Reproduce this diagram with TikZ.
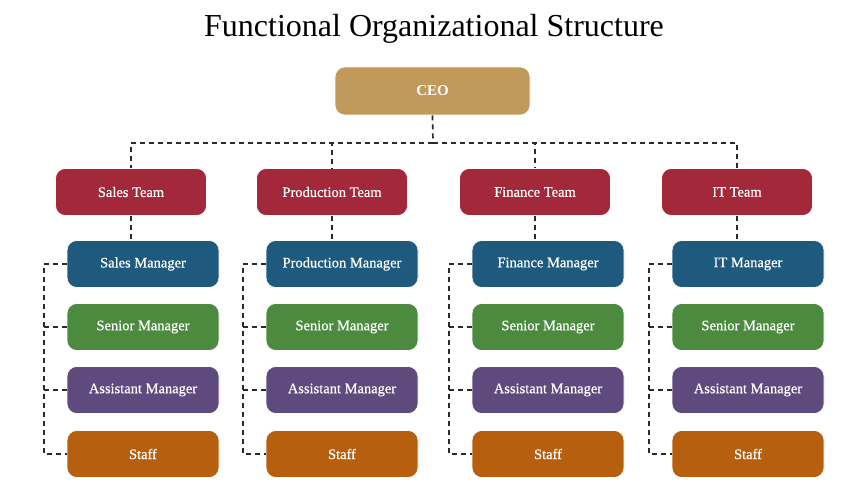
\documentclass[tikz,border=0pt]{standalone}
\usepackage{fontspec}
\setmainfont{Liberation Serif}
\newfontfamily\boxfont{Liberation Serif}[FakeBold=0.5]
\definecolor{ceoc}{HTML}{C19A5B}
\definecolor{teamc}{HTML}{A3283A}
\definecolor{mgrc}{HTML}{1E5A7E}
\definecolor{senc}{HTML}{4C8A3F}
\definecolor{astc}{HTML}{5F4A7E}
\definecolor{stfc}{HTML}{B6600F}
\definecolor{linec}{HTML}{2A2A2A}
\tikzset{
  box/.style={rounded corners=10pt, minimum height=47pt, text=white, font=\boxfont\fontsize{14.5}{16}\selectfont, inner sep=0pt, draw=white, line width=0.6pt},
  teambox/.style={box, fill=teamc, minimum width=151pt},
  lvlbox/.style={box, minimum width=152pt},
  conn/.style={draw=linec, line width=1.7pt, dash pattern=on 5pt off 4pt},
}
\begin{document}
\begin{tikzpicture}[x=1pt,y=-1pt]
\useasboundingbox (0,0) rectangle (846,502);
\fill[white] (0,0) rectangle (846,502);
\node[font=\fontsize{32}{36}\selectfont, text=black] (title) at (434,29) {Functional Organizational Structure};
\node[box, fill=ceoc, minimum width=195pt, minimum height=48pt, font=\bfseries\fontsize{15}{17}\selectfont] (ceo) at (432.5,91) {CEO};
\coordinate (hub) at (433,143);
\foreach \id/\name/\cx/\mx/\mname in {s/Sales Team/131/143/Sales Manager, p/Production Team/332/342/Production Manager, f/Finance Team/535/548/Finance Manager, i/IT Team/737/748/IT Manager}{
  \node[teambox] (\id team) at (\cx,192) {\name};
  \node[lvlbox, fill=mgrc] (\id mgr) at (\mx,264) {\mname};
  \node[lvlbox, fill=senc] (\id sen) at (\mx,327) {Senior Manager};
  \node[lvlbox, fill=astc] (\id ast) at (\mx,390) {Assistant Manager};
  \node[lvlbox, fill=stfc] (\id stf) at (\mx,454) {Staff};
  \draw[conn] (hub) -| (\id team.north);
  \draw[conn] (\id team.south) -- (\id team.south |- \id mgr.north);
  \coordinate (\id br) at ([xshift=-23pt]\id mgr.west);
  \draw[conn] (\id mgr.west) -- (\id br) |- (\id stf.west);
  \draw[conn] (\id br |- \id sen.west) -- (\id sen.west);
  \draw[conn] (\id br |- \id ast.west) -- (\id ast.west);
}
\draw[conn] (ceo.south) -- (hub);
\end{tikzpicture}
\end{document}
